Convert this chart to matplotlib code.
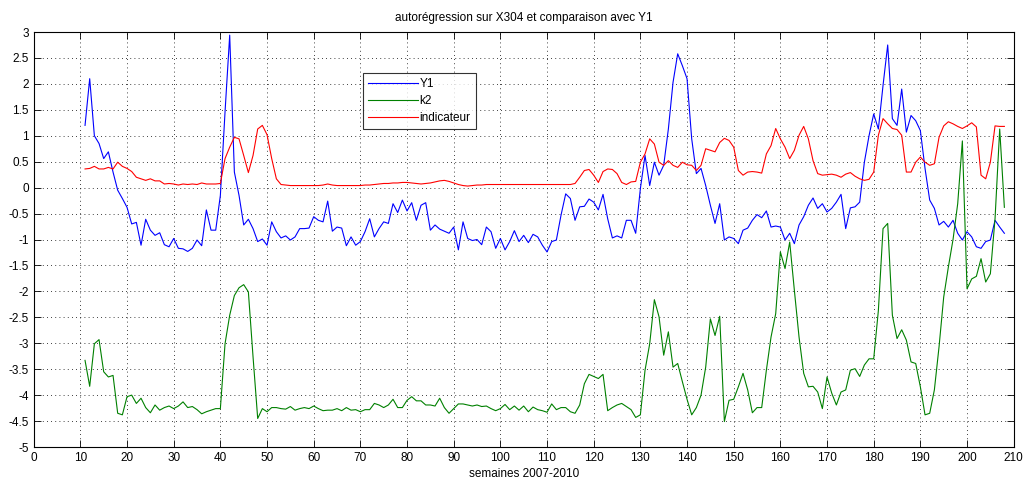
import numpy as np
import matplotlib
matplotlib.use("Agg")
import matplotlib.pyplot as plt

weeks = list(range(11, 209))

y1 = [1.2, 2.1, 1.0, 0.85, 0.56, 0.69, 0.30, -0.05, -0.21, -0.38,
      -0.70, -0.67, -1.11, -0.61, -0.82, -0.92, -0.87, -1.10, -1.14, -0.98,
      -1.17, -1.18, -1.23, -1.17, -1.01, -1.12, -0.43, -0.82, -0.82, -0.15,
      1.46, 2.94, 0.30, -0.15, -0.72, -0.61, -0.79, -1.04, -0.99, -1.11,
      -0.66, -0.85, -0.97, -0.93, -1.01, -0.95, -0.79, -0.79, -0.78, -0.56,
      -0.63, -0.66, -0.26, -0.84, -0.76, -0.78, -1.12, -0.95, -1.11, -1.04,
      -0.85, -0.60, -0.95, -0.79, -0.66, -0.69, -0.31, -0.48, -0.24, -0.45,
      -0.29, -0.63, -0.34, -0.29, -0.82, -0.72, -0.80, -0.84, -0.88, -0.76,
      -1.20, -0.66, -0.98, -1.02, -1.00, -1.10, -0.76, -0.85, -1.17, -0.98,
      -1.20, -1.04, -0.83, -1.04, -0.92, -1.06, -0.90, -0.95, -1.11, -1.24,
      -1.04, -1.01, -0.53, -0.12, -0.21, -0.63, -0.37, -0.36, -0.22, -0.28,
      -0.43, -0.13, -0.60, -0.97, -0.93, -0.97, -0.63, -0.63, -0.88, -0.02,
      0.62, 0.04, 0.49, 0.24, 0.43, 1.13, 2.03, 2.58, 2.35, 2.10,
      0.94, 0.27, 0.37, 0.04, -0.34, -0.69, -0.31, -1.01, -0.95, -0.98,
      -1.08, -0.82, -0.78, -0.63, -0.52, -0.58, -0.45, -0.76, -0.74, -0.76,
      -1.01, -0.88, -1.08, -0.72, -0.56, -0.34, -0.20, -0.40, -0.31, -0.47,
      -0.40, -0.28, -0.13, -0.79, -0.39, -0.37, -0.28, 0.49, 1.00, 1.42,
      1.13, 1.97, 2.75, 1.33, 1.20, 1.90, 1.07, 1.39, 1.29, 1.10,
      0.37, -0.24, -0.40, -0.72, -0.65, -0.76, -0.63, -0.88, -1.01, -0.85,
      -0.95, -1.14, -1.17, -1.04, -1.01, -0.63, -0.76, -0.88]

k2 = [-3.33, -3.83, -3.01, -2.93, -3.55, -3.65, -3.62, -4.35, -4.38, -4.03,
      -4.00, -4.16, -4.06, -4.24, -4.34, -4.19, -4.29, -4.24, -4.21, -4.26,
      -4.21, -4.13, -4.24, -4.22, -4.28, -4.36, -4.32, -4.29, -4.26, -4.26,
      -3.01, -2.46, -2.08, -1.93, -1.87, -2.01, -3.26, -4.45, -4.26, -4.32,
      -4.24, -4.24, -4.26, -4.27, -4.22, -4.29, -4.26, -4.24, -4.26, -4.21,
      -4.26, -4.30, -4.29, -4.29, -4.26, -4.30, -4.24, -4.29, -4.28, -4.32,
      -4.28, -4.28, -4.16, -4.19, -4.24, -4.19, -4.08, -4.24, -4.24, -4.10,
      -4.03, -4.11, -4.11, -4.19, -4.19, -4.21, -4.06, -4.24, -4.35, -4.26,
      -4.17, -4.17, -4.19, -4.21, -4.19, -4.22, -4.21, -4.26, -4.30, -4.26,
      -4.18, -4.28, -4.21, -4.29, -4.21, -4.32, -4.23, -4.28, -4.30, -4.33,
      -4.17, -4.28, -4.24, -4.24, -4.32, -4.35, -4.19, -3.78, -3.60, -3.64,
      -3.68, -3.60, -4.30, -4.24, -4.19, -4.16, -4.22, -4.28, -4.43, -4.38,
      -3.52, -3.01, -2.16, -2.49, -3.23, -2.78, -3.46, -3.39, -3.74, -4.08,
      -4.38, -4.24, -4.00, -3.46, -2.53, -2.85, -2.48, -4.51, -4.10, -4.08,
      -3.84, -3.58, -3.90, -4.34, -4.24, -4.24, -3.52, -2.88, -2.43, -1.24,
      -1.56, -1.05, -1.98, -2.88, -3.58, -3.84, -3.83, -3.94, -4.26, -3.65,
      -3.96, -4.19, -3.94, -3.90, -3.52, -3.49, -3.64, -3.42, -3.30, -3.30,
      -2.37, -0.79, -0.69, -2.46, -2.91, -2.74, -2.94, -3.36, -3.39, -3.84,
      -4.38, -4.35, -3.90, -3.07, -2.11, -1.53, -1.00, -0.31, 0.90, -1.95,
      -1.76, -1.71, -1.37, -1.82, -1.66, -0.60, 1.13, -0.38]

indicateur = [0.36, 0.37, 0.41, 0.36, 0.36, 0.39, 0.36, 0.49, 0.41, 0.37,
              0.31, 0.20, 0.17, 0.14, 0.17, 0.13, 0.13, 0.07, 0.08, 0.07,
              0.05, 0.07, 0.06, 0.07, 0.06, 0.09, 0.07, 0.07, 0.07, 0.08,
              0.56, 0.78, 0.97, 0.94, 0.62, 0.29, 0.62, 1.13, 1.20, 1.02,
              0.56, 0.17, 0.06, 0.05, 0.04, 0.04, 0.04, 0.04, 0.04, 0.04,
              0.04, 0.05, 0.07, 0.05, 0.04, 0.04, 0.04, 0.04, 0.04, 0.04,
              0.05, 0.05, 0.06, 0.07, 0.08, 0.08, 0.09, 0.09, 0.10, 0.10,
              0.09, 0.08, 0.07, 0.08, 0.09, 0.11, 0.13, 0.14, 0.12, 0.09,
              0.06, 0.04, 0.03, 0.04, 0.05, 0.05, 0.06, 0.06, 0.06, 0.06,
              0.06, 0.06, 0.06, 0.06, 0.06, 0.06, 0.06, 0.06, 0.06, 0.06,
              0.06, 0.06, 0.06, 0.06, 0.06, 0.08, 0.20, 0.33, 0.35, 0.24,
              0.10, 0.31, 0.36, 0.35, 0.27, 0.10, 0.06, 0.11, 0.12, 0.49,
              0.65, 0.94, 0.84, 0.49, 0.43, 0.52, 0.43, 0.39, 0.49, 0.44,
              0.43, 0.33, 0.43, 0.75, 0.72, 0.69, 0.87, 0.95, 0.91, 0.78,
              0.33, 0.24, 0.30, 0.31, 0.30, 0.28, 0.65, 0.81, 1.14, 0.94,
              0.78, 0.56, 0.72, 1.01, 1.18, 0.94, 0.52, 0.27, 0.24, 0.25,
              0.26, 0.24, 0.20, 0.26, 0.29, 0.22, 0.17, 0.14, 0.16, 0.30,
              1.01, 1.33, 1.23, 1.14, 1.12, 1.01, 0.30, 0.30, 0.49, 0.59,
              0.49, 0.43, 0.46, 0.97, 1.19, 1.27, 1.23, 1.18, 1.14, 1.19,
              1.25, 1.17, 0.24, 0.17, 0.49, 1.19, 1.18, 1.18]

xticks = list(range(0, 211, 10))
yticks = [-5, -4.5, -4, -3.5, -3, -2.5, -2, -1.5, -1, -0.5, 0, 0.5, 1, 1.5, 2, 2.5, 3]
ytick_labels = ["-5", "-4.5", "-4", "-3.5", "-3", "-2.5", "-2", "-1.5", "-1", "-0.5",
                "0", "0.5", "1", "1.5", "2", "2.5", "3"]

plt.rcParams['font.family'] = ['Liberation Sans', 'DejaVu Sans']

fig = plt.figure(figsize=(10.23, 4.78), dpi=100)
ax = fig.add_axes([33.7 / 1023, 1 - 447 / 478, 980 / 1023, 415 / 478])

ax.plot(weeks, y1, color='#0000ff', lw=0.8, label='Y1')
ax.plot(weeks, k2, color='#008000', lw=0.8, label='k2')
ax.plot(weeks, indicateur, color='#ff0000', lw=0.8, label='indicateur')

ax.set_xlim(0, 210)
ax.set_ylim(-5, 3)
ax.set_xticks(xticks)
ax.set_yticks(yticks)
ax.set_yticklabels(ytick_labels)
ax.tick_params(direction='in', top=True, right=True, labelsize=8.5, length=5, width=0.6)
ax.grid(True, color='black', linestyle=(0, (1, 4)), linewidth=0.6)
for s in ax.spines.values():
    s.set_linewidth(0.8)

ax.set_title('autorégression sur X304 et comparaison avec Y1', fontsize=8.5, pad=8)
ax.set_xlabel('semaines 2007-2010', fontsize=8.5, labelpad=3)

leg = ax.legend(loc='upper left', bbox_to_anchor=(363 / 1023, 1 - 73 / 478),
                bbox_transform=fig.transFigure, fontsize=8.5, frameon=True,
                fancybox=False, edgecolor='black', handlelength=4.2,
                borderpad=0.45, labelspacing=0.4, handletextpad=0.15,
                borderaxespad=0)
leg.get_frame().set_linewidth(0.8)

fig.savefig('out.png', dpi=100, facecolor='white')
